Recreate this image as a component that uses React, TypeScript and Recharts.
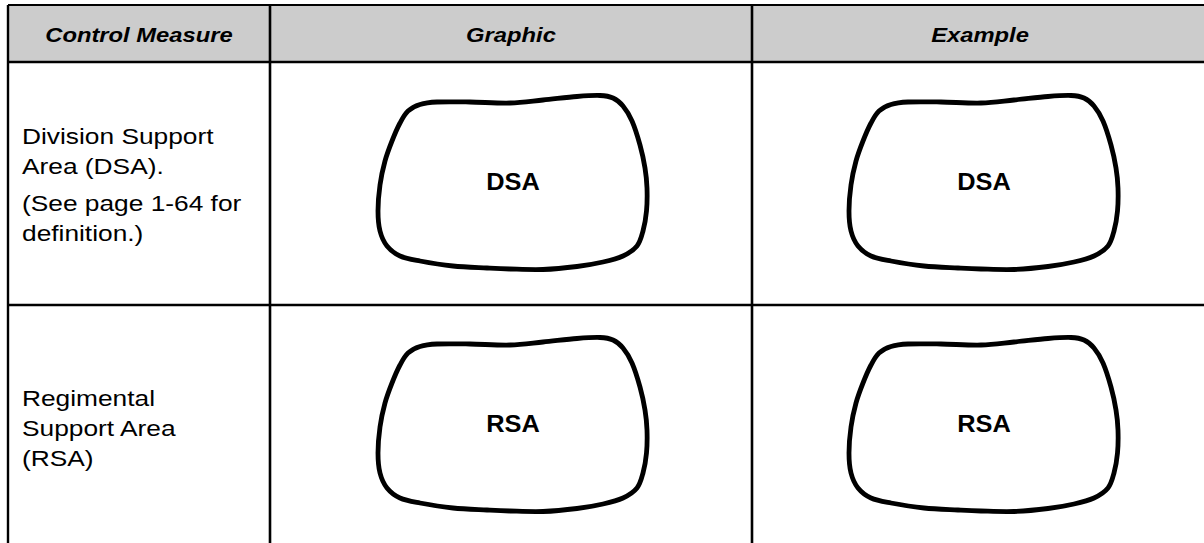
import React from 'react';
import {
  ComposedChart,
  XAxis,
  YAxis,
  Scatter,
  ReferenceArea,
  ReferenceLine,
} from 'recharts';

// ---------- data ----------
const columnHeaders = ['Control Measure', 'Graphic', 'Example'];

const rowParagraphs: string[][][] = [
  [
    ['Division Support', 'Area (DSA).'],
    ['(See page 1-64 for', 'definition.)'],
  ],
  [['Regimental', 'Support Area', '(RSA)']],
];

const symbolLabels = ['DSA', 'RSA'];

// outline of the support-area symbol, offsets from its centre
const outlineX = [
  -104, -92, -75, -42, -2, 31, 65, 88, 101, 111, 120, 128, 133, 135, 134.5, 131, 125, 111, 91, 65, 31, -2,
  -25, -59, -92, -112, -125, -132, -134, -132, -127, -120, -112,
];
const outlineY = [
  -71, -77.5, -80, -80, -79, -82, -85.5, -86.5, -84, -76, -61, -37, -14, 6, 29, 49, 64, 74, 80, 84.5, 87.5, 87,
  86, 84, 79, 74, 64, 49, 29, 3, -21, -41, -59,
];

// ---------- layout ----------
const W = 1204;
const H = 543;
const L = { left: 8, top: 5, headerBottom: 62, rowDivider: 305, colDividers: [270, 752] };
const colCenters = [139, 511, 980];
const symbolCentersX = [512, 983];
const symbolCentersY = [182, 424];
const headerBaseline = 41.5;
const rowFirstBaselines = [144.3, 406];
const lineStep = 29.8;
const paraGap = 7.2;
const FONT = '"Liberation Sans", Arial, Helvetica, sans-serif';

// closed Catmull-Rom curve factory
const closedCatmull = (context: any) => {
  let pts: number[][] = [];
  return {
    areaStart() {},
    areaEnd() {},
    lineStart() {
      pts = [];
    },
    point(x: number, y: number) {
      pts.push([+x, +y]);
    },
    lineEnd() {
      const n = pts.length;
      if (n < 3) return;
      context.moveTo(pts[0][0], pts[0][1]);
      for (let i = 0; i < n; i++) {
        const p0 = pts[(i - 1 + n) % n];
        const p1 = pts[i];
        const p2 = pts[(i + 1) % n];
        const p3 = pts[(i + 2) % n];
        const t = 1 / 6;
        context.bezierCurveTo(
          p1[0] + (p2[0] - p0[0]) * t,
          p1[1] + (p2[1] - p0[1]) * t,
          p2[0] - (p3[0] - p1[0]) * t,
          p2[1] - (p3[1] - p1[1]) * t,
          p2[0],
          p2[1]
        );
      }
      context.closePath();
    },
  };
};

type TextOpts = { size: number; sx: number; anchor: 'start' | 'middle'; bold?: boolean; italic?: boolean; dy?: number };
const makeTextShape = (o: TextOpts) => (props: any) => {
  const { cx, cy } = props;
  const text = props?.payload?.text ?? props?.text;
  if (cx == null || cy == null) return <g />;
  return (
    <text
      transform={`translate(${cx},${cy + (o.dy || 0)}) scale(${o.sx},1)`}
      textAnchor={o.anchor}
      fontFamily={FONT}
      fontSize={o.size}
      fontWeight={o.bold ? 'bold' : 'normal'}
      fontStyle={o.italic ? 'italic' : 'normal'}
      fill="#000"
    >
      {text}
    </text>
  );
};

const emptyShape = () => <g />;

const headerData = columnHeaders.map((text, i) => ({ x: colCenters[i], y: headerBaseline, text }));

const rowTextData = rowParagraphs.flatMap((paras, r) => {
  const out: { x: number; y: number; text: string }[] = [];
  let y = rowFirstBaselines[r];
  paras.forEach((lines, p) => {
    if (p > 0) y += paraGap;
    lines.forEach((line) => {
      out.push({ x: 22, y, text: line });
      y += lineStep;
    });
  });
  return out;
});

const symbols = symbolLabels.flatMap((label, r) =>
  symbolCentersX.map((cx) => ({
    key: `${label}-${cx}`,
    label,
    cx,
    cy: symbolCentersY[r],
    outline: outlineX.map((dx, k) => ({ x: cx + dx, y: symbolCentersY[r] + outlineY[k] })),
  }))
);

const symbolLabelData = symbols.map((s) => ({ x: s.cx + 1, y: s.cy, text: s.label }));

const headerShape = makeTextShape({ size: 20.5, sx: 1.16, anchor: 'middle', bold: true, italic: true });
const bodyShape = makeTextShape({ size: 22.3, sx: 1.18, anchor: 'start' });
const symbolTextShape = makeTextShape({ size: 23.5, sx: 1.08, anchor: 'middle', bold: true, dy: 8.4 });

export default function App() {
  return (
    <div style={{ position: 'absolute', left: 0, top: 0, width: W, height: H, background: '#fff' }}>
      <ComposedChart width={W} height={H} margin={{ top: 0, right: 0, bottom: 0, left: 0 }}>
        <XAxis type="number" dataKey="x" domain={[0, W]} hide allowDataOverflow />
        <YAxis type="number" dataKey="y" domain={[0, H]} reversed hide allowDataOverflow />

        <ReferenceArea
          x1={L.left}
          x2={W}
          y1={L.top}
          y2={L.headerBottom}
          fill="#cccccc"
          fillOpacity={1}
          stroke="none"
          ifOverflow="visible"
        />
        <ReferenceLine segment={[{ x: L.left, y: L.top }, { x: W, y: L.top }]} stroke="#000" strokeWidth={2.2} ifOverflow="visible" />
        <ReferenceLine
          segment={[{ x: L.left, y: L.headerBottom }, { x: W, y: L.headerBottom }]}
          stroke="#000"
          strokeWidth={2.6}
          ifOverflow="visible"
        />
        <ReferenceLine
          segment={[{ x: L.left, y: L.rowDivider }, { x: W, y: L.rowDivider }]}
          stroke="#000"
          strokeWidth={2.6}
          ifOverflow="visible"
        />
        <ReferenceLine segment={[{ x: L.left, y: L.top }, { x: L.left, y: H }]} stroke="#000" strokeWidth={2.4} ifOverflow="visible" />
        {L.colDividers.map((x) => (
          <ReferenceLine
            key={x}
            segment={[{ x, y: L.top }, { x, y: H }]}
            stroke="#000"
            strokeWidth={2.6}
            ifOverflow="visible"
          />
        ))}

        {symbols.map((s) => (
          <Scatter
            key={s.key}
            data={s.outline}
            fill="#000"
            line={{ stroke: '#000', strokeWidth: 4.8, fill: 'none' }}
            lineType="joint"
            lineJointType={closedCatmull as any}
            shape={emptyShape}
            isAnimationActive={false}
          />
        ))}

        <Scatter data={headerData} shape={headerShape} isAnimationActive={false} />
        <Scatter data={rowTextData} shape={bodyShape} isAnimationActive={false} />
        <Scatter data={symbolLabelData} shape={symbolTextShape} isAnimationActive={false} />
      </ComposedChart>
    </div>
  );
}
